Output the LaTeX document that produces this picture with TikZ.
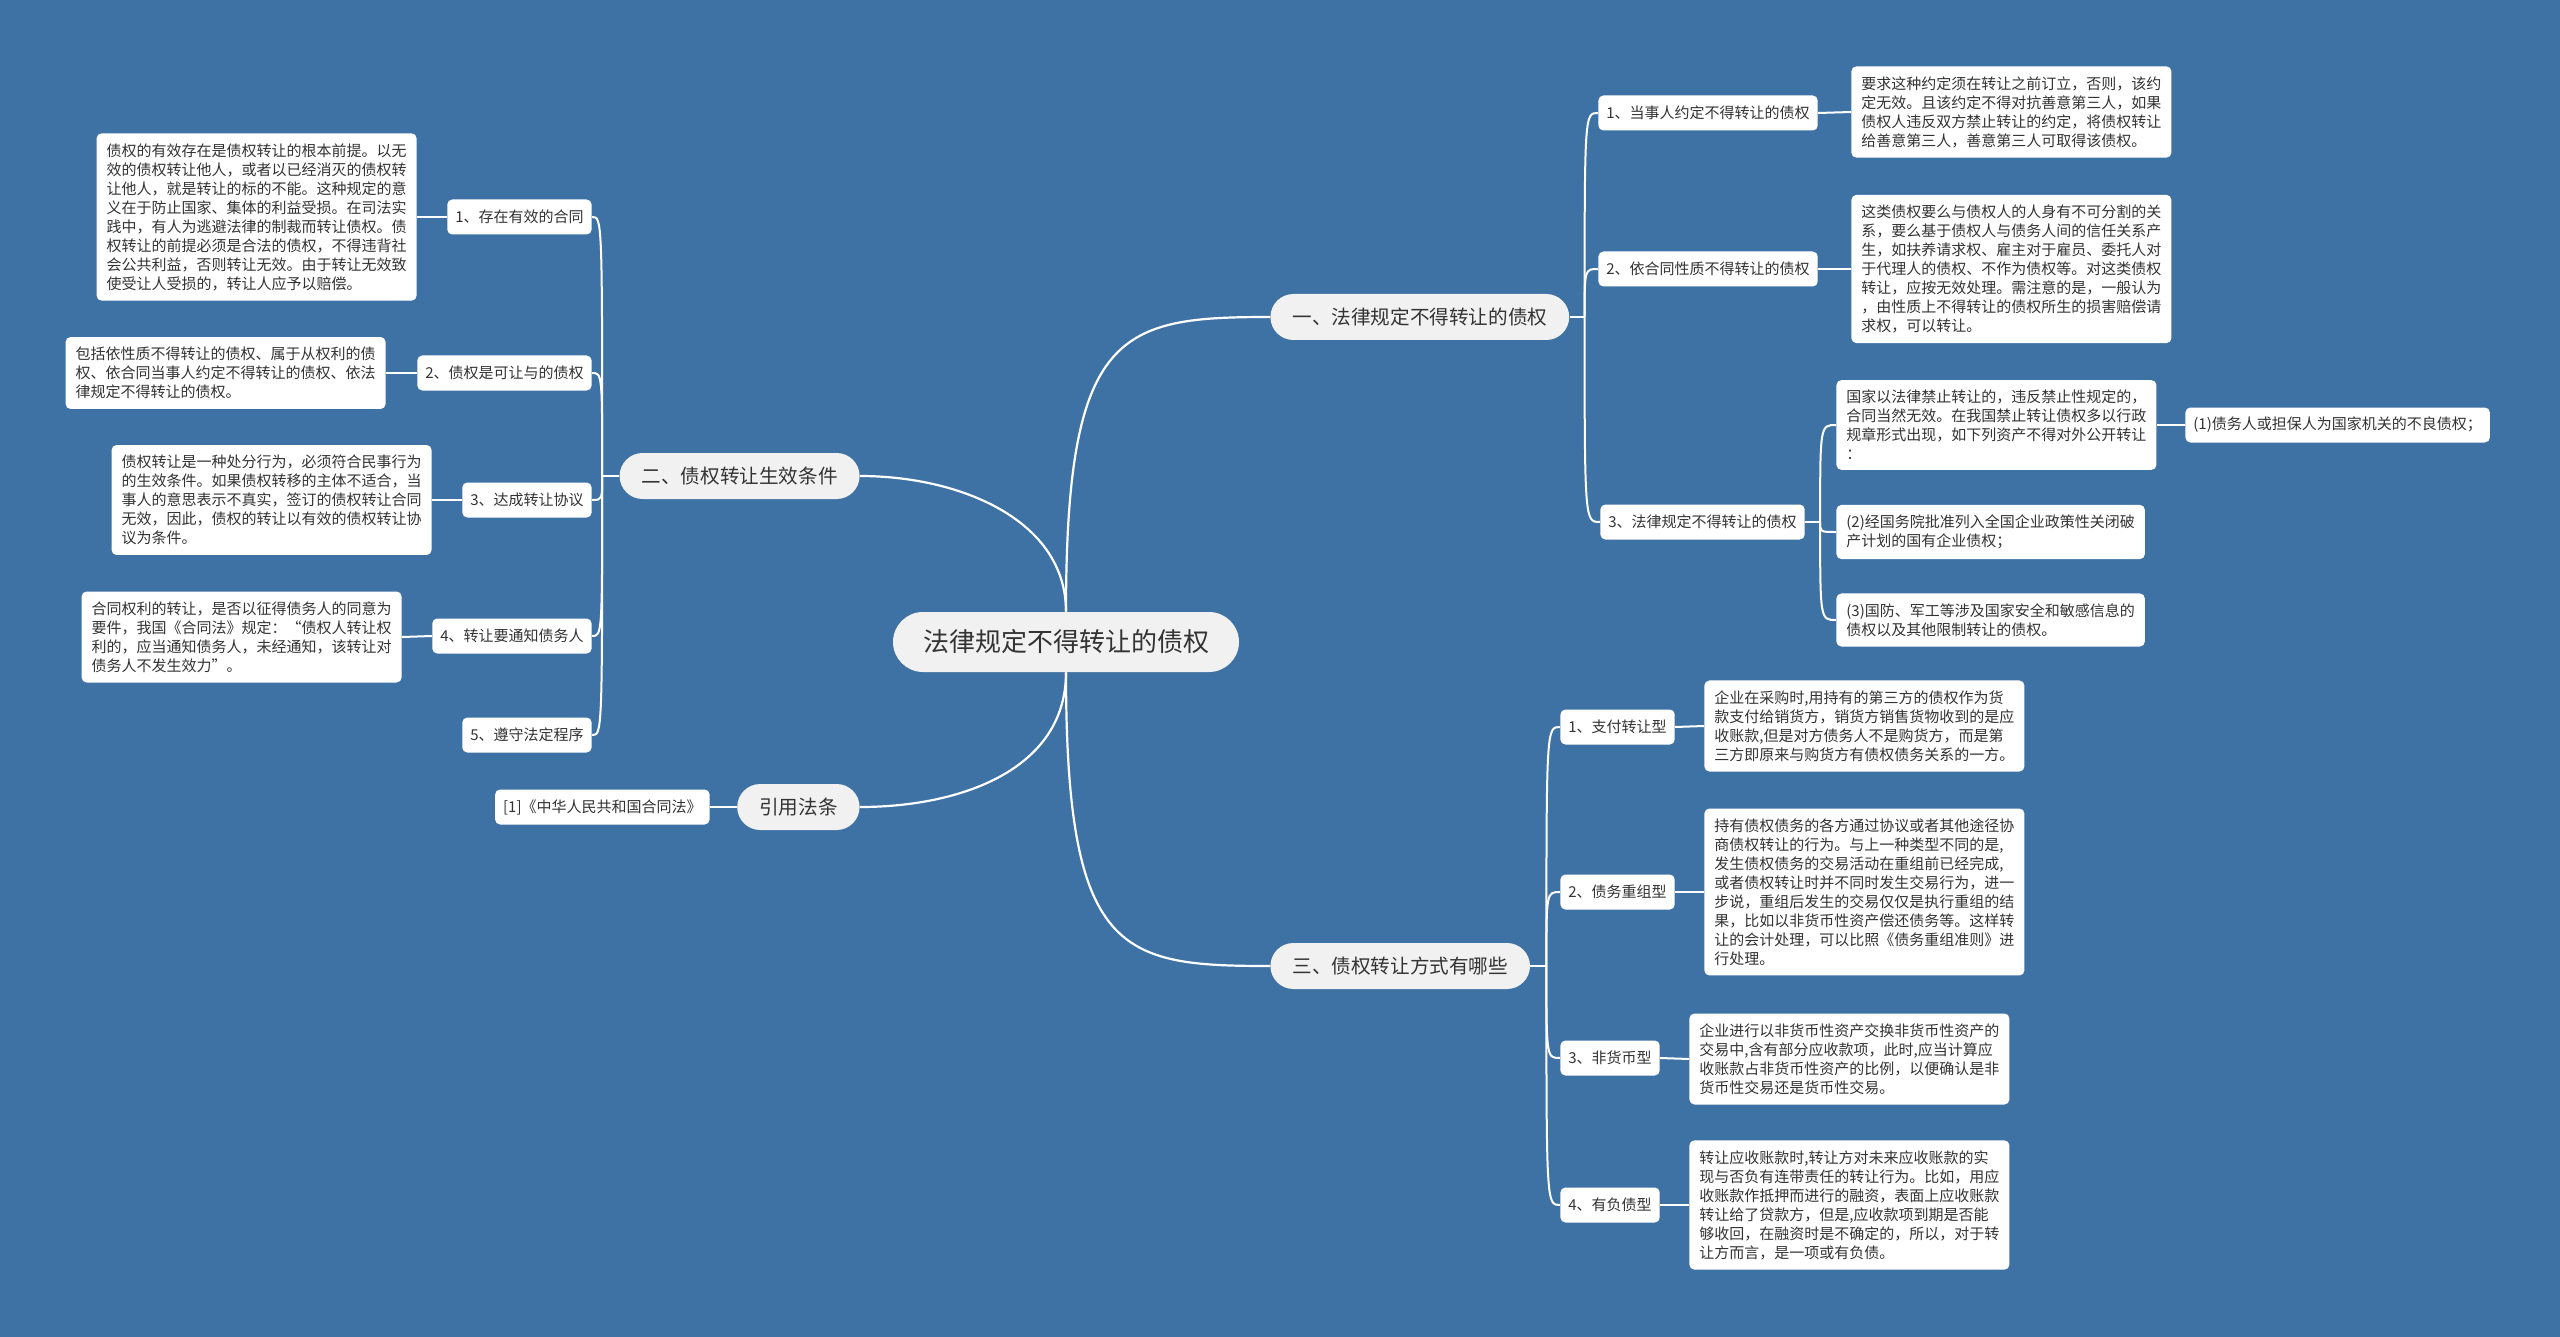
\documentclass[tikz,border=0pt]{standalone}
\usepackage{fontspec}
\setmainfont{Noto Sans CJK SC}
\usetikzlibrary{calc}
\definecolor{bgblue}{RGB}{62,114,165}
\definecolor{pillfill}{RGB}{241,241,241}
\definecolor{txt}{RGB}{51,51,51}
\begin{document}
\begin{tikzpicture}[x=0.5pt,y=-0.5pt,
  rootbox/.style={fill=pillfill, rounded corners=15pt, minimum height=30pt, inner xsep=15pt, inner ysep=0pt, text=txt, font=\fontsize{13pt}{15pt}\selectfont},
  branchbox/.style={fill=pillfill, rounded corners=11.5pt, minimum height=23pt, inner xsep=11pt, inner ysep=0pt, text=txt, font=\fontsize{9.8pt}{12pt}\selectfont},
  leafbox/.style={fill=white, rounded corners=2.5pt, minimum height=17.5pt, inner xsep=4pt, inner ysep=0pt, text=txt, font=\fontsize{7.5pt}{9pt}\selectfont},
  descbox/.style={fill=white, rounded corners=2.5pt, inner xsep=5pt, inner ysep=5pt, align=left, text=txt, font=\fontsize{7.5pt}{9.5pt}\selectfont},
  link/.style={draw=white, line width=1.1pt},
  thinlink/.style={draw=white, line width=1pt}]
\fill[bgblue] (0,0) rectangle (2560,1337);
\useasboundingbox (0,0) rectangle (2560,1337);

% root and branches
\node[rootbox] (root) at (1066,642) {法律规定不得转让的债权};
\node[branchbox, anchor=west] (b1) at (1270,317) {一、法律规定不得转让的债权};
\node[branchbox, anchor=east] (b2) at (860,476) {二、债权转让生效条件};
\node[branchbox, anchor=west] (b3) at (1270,966) {三、债权转让方式有哪些};
\node[branchbox, anchor=east] (b4) at (860,807) {引用法条};

\draw[link] (root.north) .. controls (1066,330) and (1120,317) .. (b1.west);
\draw[link] (root.north) .. controls (1066,520) and (960,476) .. (b2.east);
\draw[link] (root.south) .. controls (1066,955) and (1120,966) .. (b3.west);
\draw[link] (root.south) .. controls (1066,770) and (960,807) .. (b4.east);

% branch 1 children
\node[leafbox, anchor=west] (c11) at (1598,113) {1、当事人约定不得转让的债权};
\node[leafbox, anchor=west] (c12) at (1598,269) {2、依合同性质不得转让的债权};
\node[leafbox, anchor=west] (c13) at (1600,522) {3、法律规定不得转让的债权};
\node[descbox, anchor=west] (d11) at (1851,112) {要求这种约定须在转让之前订立，否则，该约\\定无效。且该约定不得对抗善意第三人，如果\\债权人违反双方禁止转让的约定，将债权转让\\给善意第三人，善意第三人可取得该债权。};
\node[descbox, anchor=west] (d12) at (1851,269) {这类债权要么与债权人的人身有不可分割的关\\系，要么基于债权人与债务人间的信任关系产\\生，如扶养请求权、雇主对于雇员、委托人对\\于代理人的债权、不作为债权等。对这类债权\\转让，应按无效处理。需注意的是，一般认为\\，由性质上不得转让的债权所生的损害赔偿请\\求权，可以转让。};
\node[descbox, anchor=west] (d131) at (1836,425) {国家以法律禁止转让的，违反禁止性规定的，\\合同当然无效。在我国禁止转让债权多以行政\\规章形式出现，如下列资产不得对外公开转让\\：};
\node[descbox, anchor=west] (d132) at (1836,532) {(2)经国务院批准列入全国企业政策性关闭破\\产计划的国有企业债权；};
\node[descbox, anchor=west] (d133) at (1836,620) {(3)国防、军工等涉及国家安全和敏感信息的\\债权以及其他限制转让的债权。};
\node[leafbox, anchor=west] (e1) at (2185,425) {(1)债务人或担保人为国家机关的不良债权；};

\coordinate (s1) at ($(b1.east)+(15,0)$);
\draw[thinlink] (b1.east) -- (s1);
\foreach \n in {c11,c12,c13} \draw[thinlink] (s1) .. controls (s1 |- \n.west) .. (\n.west);
\draw[thinlink] (c11.east) -- (d11.west);
\draw[thinlink] (c12.east) -- (d12.west);
\coordinate (s13) at ($(c13.east)+(15,0)$);
\draw[thinlink] (c13.east) -- (s13);
\foreach \n in {d131,d132,d133} \draw[thinlink] (s13) .. controls (s13 |- \n.west) .. (\n.west);
\draw[thinlink] (d131.east) -- (e1.west);

% branch 3 children
\node[leafbox, anchor=west] (c31) at (1560,727) {1、支付转让型};
\node[leafbox, anchor=west] (c32) at (1560,892) {2、债务重组型};
\node[leafbox, anchor=west] (c33) at (1560,1058) {3、非货币型};
\node[leafbox, anchor=west] (c34) at (1560,1205) {4、有负债型};
\node[descbox, anchor=west] (d31) at (1704,726) {企业在采购时,用持有的第三方的债权作为货\\款支付给销货方，销货方销售货物收到的是应\\收账款,但是对方债务人不是购货方，而是第\\三方即原来与购货方有债权债务关系的一方。};
\node[descbox, anchor=west] (d32) at (1704,892) {持有债权债务的各方通过协议或者其他途径协\\商债权转让的行为。与上一种类型不同的是,\\发生债权债务的交易活动在重组前已经完成,\\或者债权转让时并不同时发生交易行为，进一\\步说，重组后发生的交易仅仅是执行重组的结\\果，比如以非货币性资产偿还债务等。这样转\\让的会计处理，可以比照《债务重组准则》进\\行处理。};
\node[descbox, anchor=west] (d33) at (1689,1059) {企业进行以非货币性资产交换非货币性资产的\\交易中,含有部分应收款项，此时,应当计算应\\收账款占非货币性资产的比例，以便确认是非\\货币性交易还是货币性交易。};
\node[descbox, anchor=west] (d34) at (1689,1205) {转让应收账款时,转让方对未来应收账款的实\\现与否负有连带责任的转让行为。比如，用应\\收账款作抵押而进行的融资，表面上应收账款\\转让给了贷款方，但是,应收款项到期是否能\\够收回，在融资时是不确定的，所以，对于转\\让方而言，是一项或有负债。};

\coordinate (s3) at ($(b3.east)+(16,0)$);
\draw[thinlink] (b3.east) -- (s3);
\foreach \n in {c31,c32,c33,c34} \draw[thinlink] (s3) .. controls (s3 |- \n.west) .. (\n.west);
\draw[thinlink] (c31.east) -- (d31.west);
\draw[thinlink] (c32.east) -- (d32.west);
\draw[thinlink] (c33.east) -- (d33.west);
\draw[thinlink] (c34.east) -- (d34.west);

% branch 2 children
\node[leafbox, anchor=east] (c21) at (592,217) {1、存在有效的合同};
\node[leafbox, anchor=east] (c22) at (592,373) {2、债权是可让与的债权};
\node[leafbox, anchor=east] (c23) at (592,500) {3、达成转让协议};
\node[leafbox, anchor=east] (c24) at (592,636) {4、转让要通知债务人};
\node[leafbox, anchor=east] (c25) at (592,735) {5、遵守法定程序};
\node[descbox, anchor=east] (d21) at (417,217) {债权的有效存在是债权转让的根本前提。以无\\效的债权转让他人，或者以已经消灭的债权转\\让他人，就是转让的标的不能。这种规定的意\\义在于防止国家、集体的利益受损。在司法实\\践中，有人为逃避法律的制裁而转让债权。债\\权转让的前提必须是合法的债权，不得违背社\\会公共利益，否则转让无效。由于转让无效致\\使受让人受损的，转让人应予以赔偿。};
\node[descbox, anchor=east] (d22) at (386,373) {包括依性质不得转让的债权、属于从权利的债\\权、依合同当事人约定不得转让的债权、依法\\律规定不得转让的债权。};
\node[descbox, anchor=east] (d23) at (432,500) {债权转让是一种处分行为，必须符合民事行为\\的生效条件。如果债权转移的主体不适合，当\\事人的意思表示不真实，签订的债权转让合同\\无效，因此，债权的转让以有效的债权转让协\\议为条件。};
\node[descbox, anchor=east] (d24) at (402,637) {合同权利的转让，是否以征得债务人的同意为\\要件，我国《合同法》规定：“债权人转让权\\利的，应当通知债务人，未经通知，该转让对\\债务人不发生效力”。};

\coordinate (s2) at ($(b2.west)+(-17,0)$);
\draw[thinlink] (b2.west) -- (s2);
\foreach \n in {c21,c22,c23,c24,c25} \draw[thinlink] (s2) .. controls (s2 |- \n.east) .. (\n.east);
\draw[thinlink] (c21.west) -- (d21.east);
\draw[thinlink] (c22.west) -- (d22.east);
\draw[thinlink] (c23.west) -- (d23.east);
\draw[thinlink] (c24.west) -- (d24.east);

% branch 4
\node[leafbox, anchor=east] (r1) at (710,807) {[1]《中华人民共和国合同法》};
\draw[thinlink] (b4.west) -- (r1.east);
\end{tikzpicture}
\end{document}
